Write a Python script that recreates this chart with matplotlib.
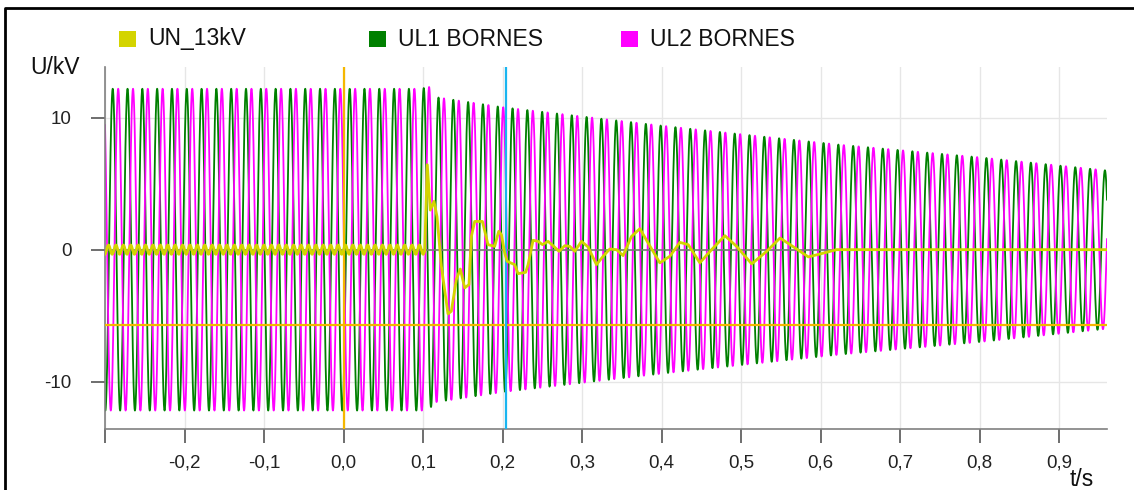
import numpy as np
import matplotlib
matplotlib.use("Agg")
import matplotlib.pyplot as plt
from matplotlib.patches import Rectangle

plt.rcParams['font.family'] = ['Liberation Sans', 'DejaVu Sans']

# --- data ---
# UL1 / UL2 : sine waves, envelope (peak kV) read at a few instants
env_t = [-0.30, 0.100, 0.106, 0.112, 0.20, 0.30, 0.40, 0.50, 0.625, 0.80, 0.96]
env_amp = [12.2, 12.2, 12.6, 11.6, 10.8, 10.1, 9.4, 8.75, 7.95, 7.0, 6.0]
freq = 53.7          # Hz, as seen on the chart (period ~14.8 px)
first_peak = -0.2903  # first UL1 peak
ul2_lag = 0.37       # UL2 lag, fraction of a period

# UN_13kV : small ripple before the fault, then the transient
un_ripple = 0.35
fault_t = 0.102
un_t = [0.102, 0.1053, 0.109, 0.1137, 0.1175, 0.123, 0.1313, 0.1355, 0.1418, 0.1468,
        0.1523, 0.1577, 0.1607, 0.1649, 0.1746, 0.1816, 0.190, 0.1951, 0.1985, 0.2026,
        0.2056, 0.2152, 0.2194, 0.229, 0.232, 0.2383, 0.2446, 0.2501, 0.2572, 0.2643,
        0.271, 0.2782, 0.2845, 0.2907, 0.2992, 0.3075, 0.318, 0.3264, 0.3348, 0.3432,
        0.3515, 0.362, 0.3726, 0.383, 0.3977, 0.4103, 0.4229, 0.4334, 0.448, 0.4628,
        0.4795, 0.4942, 0.5132, 0.532, 0.5488, 0.5635, 0.5844, 0.5991, 0.62, 0.96]
un_v = [0.0, 6.44, 3.0, 3.66, 2.5, -1.27, -4.87, -4.67, -2.27, -1.47,
        -2.9, -2.65, 1.0, 2.14, 2.14, 0.38, 0.25, 1.39, 1.14, -0.25,
        -0.88, -1.14, -1.82, -1.72, -1.14, 0.71, 0.63, 0.38, 0.63, 0.25,
        -0.13, 0.3, 0.25, -0.13, 0.63, 0.2, -1.14, -0.5, 0.05, 0.0,
        -0.45, 1.0, 1.59, 0.5, -1.0, -0.5, 0.55, 0.38, -1.0, 0.0,
        1.06, 0.25, -1.08, -0.13, 0.88, 0.3, -0.55, -0.33, 0.0, 0.0]

cursor_t = 0.2045
marker_t = 0.0
marker_v = -5.68

xticks = [-0.3, -0.2, -0.1, 0.0, 0.1, 0.2, 0.3, 0.4, 0.5, 0.6, 0.7, 0.8, 0.9]
xlabels = ['', '-0,2', '-0,1', '0,0', '0,1', '0,2', '0,3', '0,4', '0,5', '0,6', '0,7', '0,8', '0,9']
yticks = [-10, 0, 10]
ylabels = ['-10', '0', '10']

names = ['UN_13kV', 'UL1 BORNES', 'UL2 BORNES']
colors = ['#d4d400', '#008000', '#ff00ff']

# --- signals ---
t = np.linspace(-0.3, 0.96, 30000)
amp = np.interp(t, env_t, env_amp)
ph = 2 * np.pi * freq * (t - first_peak)
ul1 = amp * np.cos(ph)
ul2 = amp * np.cos(ph - 2 * np.pi * ul2_lag)

t_pre = t[t <= fault_t]
un_pre = un_ripple * np.sin(2 * np.pi * 2 * freq * t_pre)
un_t_all = np.concatenate([t_pre, un_t])
un_all = np.concatenate([un_pre, un_v])

fig = plt.figure(figsize=(11.34, 4.90), dpi=100)
ax = fig.add_axes([105 / 1134, 1 - 429 / 490, 1002 / 1134, 362 / 490])

ax.plot(t, ul1, color=colors[1], lw=1.3, zorder=2)
ax.plot(t, ul2, color=colors[2], lw=1.3, zorder=2)
ax.axhline(0, color='#777777', lw=1.2, zorder=3)
ax.axhline(marker_v, color='#f5b700', lw=1.6, zorder=3)
ax.axvline(marker_t, color='#f5b700', lw=1.6, zorder=3)
ax.axvline(cursor_t, color='#19b5f0', lw=1.6, zorder=3)
ax.plot(un_t_all, un_all, color=colors[0], lw=2.0, zorder=4)

ax.set_xlim(-0.3, 0.96)
ax.set_ylim(-13.6, 13.85)
ax.set_xticks(xticks)
ax.set_xticklabels(xlabels)
ax.set_yticks(yticks)
ax.set_yticklabels(ylabels)
ax.grid(True, color='#e6e6e6', lw=1.0, zorder=0)
ax.set_axisbelow(True)
for s in ['top', 'right']:
    ax.spines[s].set_visible(False)
for s in ['left', 'bottom']:
    ax.spines[s].set_color('#808080')
    ax.spines[s].set_linewidth(1.2)
ax.tick_params(axis='both', colors='#555555', length=10, width=1.2, labelsize=13.5, labelcolor='#222222')
ax.tick_params(axis='y', pad=14)
ax.tick_params(axis='x', pad=8)

fig.text(30 / 1134, 1 - 56 / 490, 'U/kV', fontsize=16.5, va='top', color='#111111')
fig.text(1070 / 1134, 1 - 468 / 490, 't/s', fontsize=16.5, va='top', color='#111111')

# legend
leg_x = [119, 369, 621]
for name, c, lx in zip(names, colors, leg_x):
    fig.add_artist(Rectangle((lx / 1134, 1 - 47 / 490), 17 / 1134, 16 / 490,
                             transform=fig.transFigure, color=c, lw=0))
    fig.text((lx + 29) / 1134, 1 - 39 / 490, name, fontsize=16.5, va='center', color='#111111')

# frame
fig.add_artist(plt.Line2D([5 / 1134, 5 / 1134, 1.0], [0.0, 1 - 8 / 490, 1 - 8 / 490],
                          transform=fig.transFigure, color='black', lw=2))

fig.savefig('out.png', dpi=100)
